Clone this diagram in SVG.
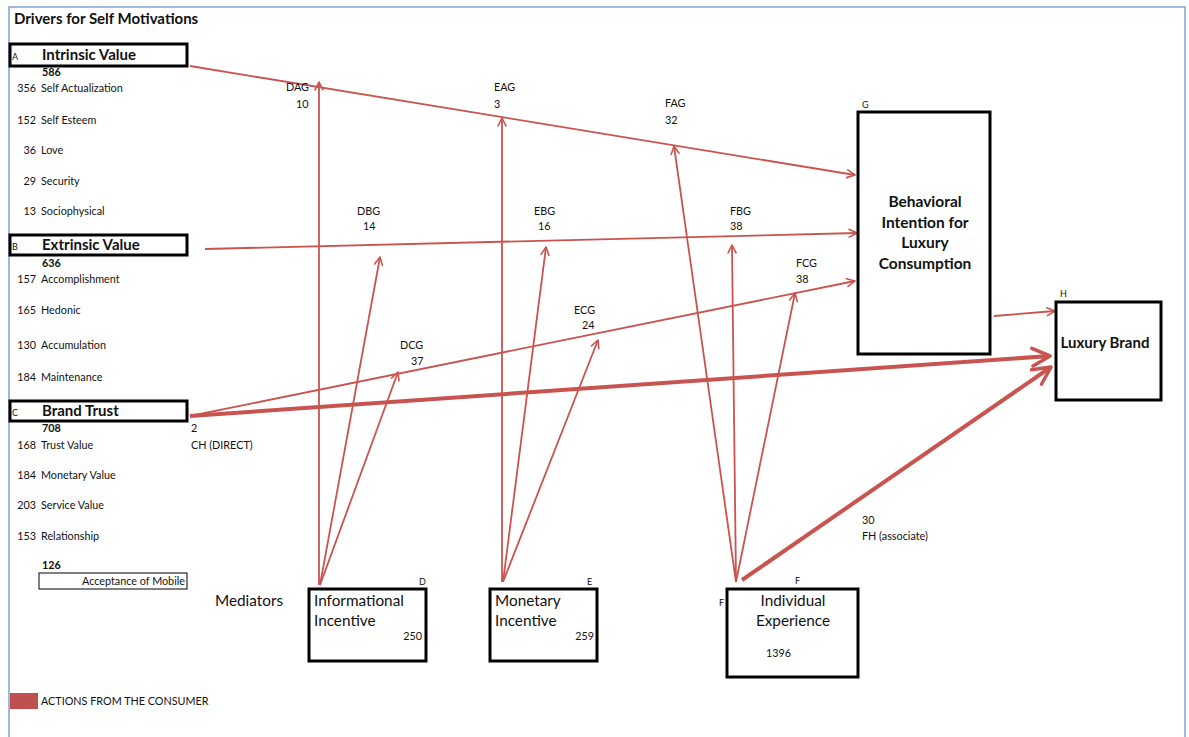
<svg xmlns="http://www.w3.org/2000/svg" width="1189" height="737" viewBox="0 0 1189 737">
<defs>
<style>
text{font-family:Lato,"Open Sans","Liberation Sans",sans-serif;fill:#111}
.t{font-size:10.8px}
.s{font-size:9px}
.b{font-weight:bold}
.h{font-size:15px;font-weight:bold}
.m{font-size:15.3px}
.box{fill:#fff;stroke:#000;stroke-width:3}
.thin{fill:#fff;stroke:#000;stroke-width:1}
.c{fill:none;stroke:#c9544f;stroke-width:1.8;marker-end:url(#ah)}
.k{fill:none;stroke:#c9544f;stroke-width:4;marker-end:url(#ah)}
.r{text-anchor:end}
.mid{text-anchor:middle}
</style>
<marker id="ah" viewBox="0 0 10 10" refX="9" refY="5" markerWidth="5.5" markerHeight="5.5" orient="auto" markerUnits="strokeWidth">
<path d="M1,1 L9,5 L1,9" fill="none" stroke="#c9544f" stroke-width="1.6" stroke-linecap="round" stroke-linejoin="round"/>
</marker>
</defs>
<rect width="1189" height="737" fill="#fff"/>
<path d="M9,737 V7 H1185 V737" fill="none" stroke="#7da2d6" stroke-width="1.5"/>
<text x="14" y="24" class="h">Drivers for Self Motivations</text>

<g id="connectors">
<line class="c" x1="190" y1="66" x2="855" y2="175"/>
<line class="c" x1="205" y1="249" x2="857" y2="233"/>
<line class="c" x1="190" y1="416" x2="855" y2="281"/>
<line class="k" x1="190" y1="416" x2="1050" y2="356"/>
<line class="c" x1="994" y1="316" x2="1055" y2="311"/>
<line class="k" x1="742" y1="580" x2="1051" y2="367"/>
<line class="c" x1="319" y1="585" x2="319" y2="82"/>
<line class="c" x1="320" y1="585" x2="380" y2="257"/>
<line class="c" x1="320" y1="585" x2="398" y2="372"/>
<line class="c" x1="502" y1="582" x2="502" y2="118"/>
<line class="c" x1="503" y1="582" x2="546" y2="247"/>
<line class="c" x1="503" y1="582" x2="598" y2="340"/>
<line class="c" x1="736" y1="582" x2="674" y2="146"/>
<line class="c" x1="736" y1="582" x2="732" y2="245"/>
<line class="c" x1="736" y1="582" x2="795" y2="293"/>
</g>

<g id="connector-labels" class="t">
<text x="286" y="91">DAG</text><text x="296" y="108">10</text>
<text x="494" y="91">EAG</text><text x="494" y="108">3</text>
<text x="665" y="107">FAG</text><text x="665" y="124">32</text>
<text x="357" y="215">DBG</text><text x="363" y="230">14</text>
<text x="534" y="215">EBG</text><text x="538" y="230">16</text>
<text x="730" y="215">FBG</text><text x="730" y="230">38</text>
<text x="796" y="267">FCG</text><text x="796" y="283">38</text>
<text x="574" y="314">ECG</text><text x="582" y="329">24</text>
<text x="400" y="349">DCG</text><text x="411" y="365">37</text>
<text x="191" y="432">2</text><text x="191" y="449">CH (DIRECT)</text>
<text x="862" y="524">30</text><text x="862" y="540">FH (associate)</text>
</g>

<g id="nodeA">
<rect class="box" x="10" y="44" width="177" height="22"/>
<text x="12" y="60" class="s">A</text>
<text x="42" y="60" class="h">Intrinsic Value</text>
<text x="42" y="76" class="t b">586</text>
<g class="t">
<text x="36" y="92" class="r">356</text><text x="41" y="92">Self Actualization</text>
<text x="36" y="124" class="r">152</text><text x="41" y="124">Self Esteem</text>
<text x="36" y="154" class="r">36</text><text x="41" y="154">Love</text>
<text x="36" y="185" class="r">29</text><text x="41" y="185">Security</text>
<text x="36" y="215" class="r">13</text><text x="41" y="215">Sociophysical</text>
</g>
</g>

<g id="nodeB">
<rect class="box" x="10" y="235" width="177" height="20"/>
<text x="12" y="250" class="s">B</text>
<text x="42" y="250" class="h">Extrinsic Value</text>
<text x="42" y="267" class="t b">636</text>
<g class="t">
<text x="36" y="283" class="r">157</text><text x="41" y="283">Accomplishment</text>
<text x="36" y="314" class="r">165</text><text x="41" y="314">Hedonic</text>
<text x="36" y="349" class="r">130</text><text x="41" y="349">Accumulation</text>
<text x="36" y="381" class="r">184</text><text x="41" y="381">Maintenance</text>
</g>
</g>

<g id="nodeC">
<rect class="box" x="10" y="401" width="177" height="20"/>
<text x="12" y="416" class="s">C</text>
<text x="42" y="416" class="h">Brand Trust</text>
<text x="42" y="432" class="t b">708</text>
<g class="t">
<text x="36" y="449" class="r">168</text><text x="41" y="449">Trust Value</text>
<text x="36" y="479" class="r">184</text><text x="41" y="479">Monetary Value</text>
<text x="36" y="509" class="r">203</text><text x="41" y="509">Service Value</text>
<text x="36" y="540" class="r">153</text><text x="41" y="540">Relationship</text>
</g>
</g>

<g id="acceptance">
<text x="42" y="569" class="t b">126</text>
<rect class="thin" x="39" y="573" width="148" height="16"/>
<text x="185" y="585" class="t r">Acceptance of Mobile</text>
</g>

<text x="215" y="606" class="m">Mediators</text>

<g id="nodeD">
<rect class="box" x="309" y="589" width="117" height="72"/>
<text x="419" y="585" class="s">D</text>
<text x="314" y="606" class="m">Informational</text>
<text x="314" y="626" class="m">Incentive</text>
<text x="422" y="640" class="t r">250</text>
</g>

<g id="nodeE">
<rect class="box" x="490" y="589" width="107" height="72"/>
<text x="587" y="585" class="s">E</text>
<text x="495" y="606" class="m">Monetary</text>
<text x="495" y="626" class="m">Incentive</text>
<text x="594" y="640" class="t r">259</text>
</g>

<g id="nodeF">
<rect class="box" x="727" y="589" width="131" height="88"/>
<text x="795" y="584" class="s">F</text>
<text x="719" y="606" class="s">F</text>
<text x="793" y="606" class="m mid">Individual</text>
<text x="793" y="626" class="m mid">Experience</text>
<text x="766" y="657" class="t">1396</text>
</g>

<g id="nodeG">
<rect class="box" x="858" y="112" width="132" height="242"/>
<text x="862" y="108" class="s">G</text>
<text x="925" y="207" class="h mid" style="font-size:15.5px">Behavioral</text>
<text x="925" y="228" class="h mid" style="font-size:15.5px">Intention for</text>
<text x="925" y="248" class="h mid" style="font-size:15.5px">Luxury</text>
<text x="925" y="269" class="h mid" style="font-size:15.5px">Consumption</text>
</g>

<g id="nodeH">
<rect class="box" x="1056" y="302" width="105" height="98"/>
<text x="1060" y="297" class="s">H</text>
<text x="1105" y="348" class="h mid">Luxury Brand</text>
</g>

<g id="legend">
<rect x="10" y="693" width="28" height="16" fill="#c0504d"/>
<text x="41" y="705" class="t">ACTIONS FROM THE CONSUMER</text>
</g>
</svg>
